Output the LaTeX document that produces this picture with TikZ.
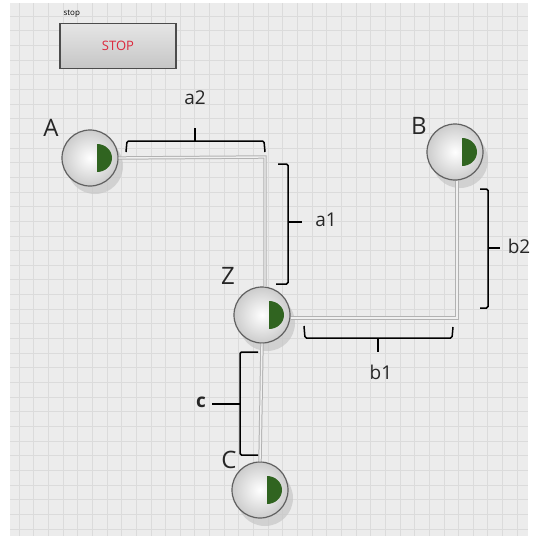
\documentclass[tikz,border=0pt]{standalone}
\usepackage{fontspec}
\setmainfont{Open Sans}
\usetikzlibrary{shadings,calc}
\definecolor{lampgreen}{RGB}{48,100,32}
\definecolor{stopred}{RGB}{220,40,60}
\begin{document}
\begin{tikzpicture}[x=1pt,y=-1pt,
  lamp/.style={circle,minimum size=56pt,inner sep=0pt,draw=gray!75!black,line width=1.2pt,
     shading=radial,inner color=white,outer color=gray!40},
  wire/.style={draw=gray!60,double=gray!12,double distance=1.4pt,line width=1pt},
  brk/.style={draw=black,line width=1.5pt,rounded corners=1.5pt},
  lbl/.style={font=\fontsize{24}{24}\selectfont,text=black!85},
  dim/.style={font=\fontsize{19}{19}\selectfont,text=black!85}]
\useasboundingbox (0,0) rectangle (534,536);
\fill[white] (0,0) rectangle (534,536);
\fill[gray!15] (10,3) rectangle (528,536);
\begin{scope}
\clip (10,3) rectangle (528,536);
\foreach \i in {0,...,37} {
  \draw[gray!28,line width=0.8pt] (4.4+\i*14.65,3) -- (4.4+\i*14.65,536);
  \draw[gray!28,line width=0.8pt] (10,1.5+\i*14.65) -- (528,1.5+\i*14.65);
}
\end{scope}
% stop button
\node[font=\fontsize{8}{8}\selectfont,anchor=west] (stoplbl) at (60,14) {stop};
\node[draw=gray!60!black,line width=1.2pt,minimum width=116pt,minimum height=45pt,
  shading=axis,top color=gray!20,bottom color=gray!45,
  font=\fontsize{13}{13}\selectfont,text=stopred] (stop) at (118,46) {STOP};
% shadows
\foreach \p in {(95,166),(460,160),(267,323),(265,498)}
  \fill[gray!45,opacity=0.7] \p circle (28);
% lamps
\node[lamp] (A) at (90,158) {};
\node[lamp] (B) at (455,152) {};
\node[lamp] (Z) at (262,315) {};
\node[lamp] (C) at (260,490) {};
\foreach \n in {A,B,Z,C}
  \fill[lampgreen] ($(\n.center)+(7,-14)$) arc[start angle=-90,end angle=90,x radius=15,y radius=14] -- cycle;
% labels
\node[lbl] (lA) at (51,128) {A};
\node[lbl] (lB) at (419,126) {B};
\node[lbl] (lZ) at (228,276) {Z};
\node[lbl] (lC) at (229,460) {C};
% wires
\coordinate (k1) at (265,157);
\coordinate (k2) at (457,318);
\draw[wire] (A.east) -- (k1) -- (Z.north -| k1);
\draw[wire] (Z.east |- k2) -- (k2) -- (B.south -| k2);
\draw[wire] (Z.south) -- (C.north);
% braces
\draw[brk] (126,152) -- (127,141) -- (264,141) -- (265,152);
\draw[brk] (195,141) -- (195,128);
\node[dim] (la2) at (195,98) {a2};
\draw[brk] (278,164) -- (288,164) -- (288,284) -- (276,284);
\draw[brk] (288,222) -- (302,222);
\node[dim] (la1) at (326,220) {a1};
\draw[brk] (480,189) -- (488,189) -- (488,308) -- (480,308);
\draw[brk] (488,248) -- (500,248);
\node[dim] (lb2) at (519,246) {b2};
\draw[brk] (304,326) -- (305,338) -- (452,338) -- (453,327);
\draw[brk] (378,338) -- (378,352);
\node[dim] (lb1) at (381,372) {b1};
\draw[brk] (258,352) -- (240,352) -- (240,455) -- (258,455);
\draw[brk] (240,404) -- (212,404);
\node[dim,font=\bfseries\fontsize{19}{19}\selectfont] (lc) at (201,402) {c};
\end{tikzpicture}
\end{document}
